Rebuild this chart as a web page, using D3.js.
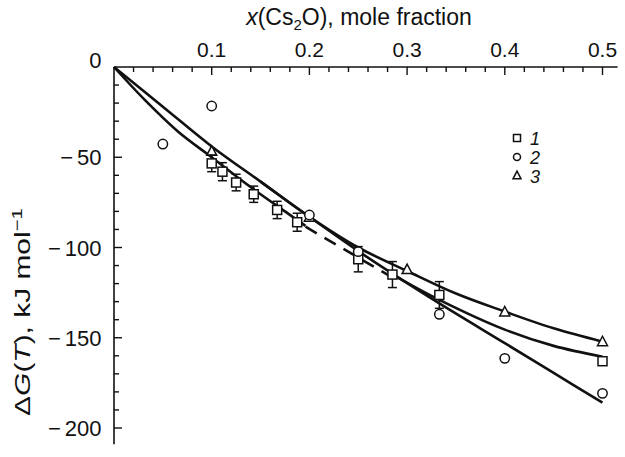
<!DOCTYPE html>
<html><head><meta charset="utf-8">
<script src="https://cdn.jsdelivr.net/npm/d3@7"></script>
<style>
html,body{margin:0;padding:0;background:#fff;}
svg text{font-family:"Liberation Sans",Arial,Helvetica,sans-serif;fill:#111;}
</style></head>
<body><svg id="c" width="625" height="457"></svg>
<script>
// ---- data ----
const xTickLabels = [0.1, 0.2, 0.3, 0.4, 0.5];
const yTickLabels = [0, -50, -100, -150, -200];

// set 1 (squares, with error bars)
const set1X   = [0.100, 0.111, 0.125, 0.143, 0.167, 0.1875, 0.250, 0.285, 0.333, 0.500];
const set1Y   = [-53.4, -58.0, -64.0, -70.5, -79.2, -86.0, -106.5, -115.0, -126.3, -163.0];
const set1Err = [4.6, 5.0, 4.6, 4.5, 4.8, 5.0, 7.0, 7.2, 7.4, 0];

// set 2 (circles)
const set2X = [0.050, 0.100, 0.200, 0.250, 0.333, 0.400, 0.500];
const set2Y = [-42.7, -21.6, -82.0, -102.3, -137.0, -161.4, -180.8];

// set 3 (triangles)
const set3X = [0.100, 0.200, 0.300, 0.400, 0.500];
const set3Y = [-47.0, -83.5, -112.5, -136.0, -152.5];

// curve through triangles (upper)
const curveAX = [0, 0.05, 0.10, 0.15, 0.20, 0.25, 0.30, 0.35, 0.40, 0.45, 0.50];
const curveAY = [0, -22, -44, -63.5, -83, -100, -113, -125.5, -135.5, -144.8, -152.2];
// curve through squares, solid part at low x
const curveBX = [0, 0.032, 0.066, 0.10, 0.125, 0.15, 0.175, 0.196];
const curveBY = [0, -18.5, -36, -50, -60.5, -70.5, -80, -88];
// dashed part
const dashX = [0.196, 0.283];
const dashY = [-88.5, -116];
// curve through squares, solid part at high x
const curveSX = [0.285, 0.333, 0.40, 0.45, 0.50];
const curveSY = [-115, -129, -145.5, -154.5, -160.5];
// curve through circles
const curveCX = [0.15, 0.20, 0.25, 0.285, 0.333, 0.40, 0.45, 0.50];
const curveCY = [-63.5, -83, -102, -114.5, -131, -153, -169.5, -186];

// ---- drawing ----
const svg = d3.select("#c");
const x = d3.scaleLinear().domain([0, 0.5]).range([114, 602.5]);
const y = d3.scaleLinear().domain([0, -200]).range([67, 428]);
const xEnd = 0.5155, yEnd = -209;
const FS = 21;

// axes lines
svg.append("line").attr("x1", x(0)).attr("x2", x(xEnd)).attr("y1", y(0)).attr("y2", y(0))
  .attr("stroke", "#111").attr("stroke-width", 1.6);
svg.append("line").attr("x1", x(0)).attr("x2", x(0)).attr("y1", y(0)).attr("y2", y(yEnd))
  .attr("stroke", "#111").attr("stroke-width", 1.6);

// x ticks (minor every 0.02, major every 0.1)
const xMinor = d3.range(1, 26).map(i => +(i * 0.02).toFixed(2));
svg.append("g").selectAll("line").data(xMinor).join("line")
  .attr("x1", d => x(d)).attr("x2", d => x(d))
  .attr("y1", y(0)).attr("y2", d => y(0) + (Math.abs(d * 10 - Math.round(d * 10)) < 1e-6 ? 8 : 5))
  .attr("stroke", "#111").attr("stroke-width", 1.4);
svg.append("g").selectAll("text").data(xTickLabels).join("text")
  .attr("x", d => x(d)).attr("y", 56.5).attr("text-anchor", "middle")
  .attr("font-size", FS).text(d => d3.format(".1f")(d));

// y ticks (minor every 10, major every 50)
const yMinor = d3.range(1, 21).map(i => -i * 10);
svg.append("g").selectAll("line").data(yMinor).join("line")
  .attr("x1", x(0)).attr("x2", d => x(0) + (d % 50 === 0 ? 8 : 5))
  .attr("y1", d => y(d)).attr("y2", d => y(d))
  .attr("stroke", "#111").attr("stroke-width", 1.4);
const yl = svg.append("g").selectAll("text").data(yTickLabels).join("text")
  .attr("x", 101.5).attr("y", d => d === 0 ? y(d) + 1 : y(d) + 8)
  .attr("text-anchor", "end").attr("font-size", 22);
yl.filter(d => d !== 0).append("tspan").text("\u2212");
yl.append("tspan").attr("dx", d => d === 0 ? 0 : 4).text(d => Math.abs(d));

// axis titles
const xt = svg.append("text").attr("x", 359).attr("y", 25).attr("text-anchor", "middle").attr("font-size", 23);
xt.append("tspan").attr("font-style", "italic").text("x");
xt.append("tspan").text("(Cs");
xt.append("tspan").attr("font-size", 15).attr("dy", 5).text("2");
xt.append("tspan").attr("dy", -5).text("O), mole fraction");

const yt = svg.append("text").attr("transform", "translate(30,312) rotate(-90) scale(1.36,1)")
  .attr("text-anchor", "middle").attr("font-size", 22);
yt.append("tspan").text("\u0394");
yt.append("tspan").attr("font-style", "italic").text("G");
yt.append("tspan").text("(");
yt.append("tspan").attr("font-style", "italic").text("T");
yt.append("tspan").text("), kJ mol");
yt.append("tspan").attr("font-size", 15).attr("dy", -8).text("\u22121");

// curves
const line = d3.line().x(d => x(d[0])).y(d => y(d[1])).curve(d3.curveCatmullRom.alpha(0.5));
const pts = (xs, ys) => xs.map((v, i) => [v, ys[i]]);
const curves = [pts(curveAX, curveAY), pts(curveBX, curveBY), pts(curveSX, curveSY), pts(curveCX, curveCY)];
svg.append("g").selectAll("path").data(curves).join("path")
  .attr("d", line).attr("fill", "none").attr("stroke", "#111").attr("stroke-width", 2.6)
  .attr("stroke-linejoin", "round");
svg.append("path").attr("d", d3.line().x(d => x(d[0])).y(d => y(d[1]))(pts(dashX, dashY)))
  .attr("fill", "none").attr("stroke", "#111").attr("stroke-width", 2.6)
  .attr("stroke-dasharray", "13,9");

const tri = (cx, cy, s) => `M${cx},${cy - s * 0.6}L${cx + s / 2},${cy + s * 0.35}L${cx - s / 2},${cy + s * 0.35}Z`;
// triangles
svg.append("g").selectAll("path").data(pts(set3X, set3Y)).join("path")
  .attr("d", d => tri(x(d[0]), y(d[1]), 10))
  .attr("fill", "#fff").attr("stroke", "#111").attr("stroke-width", 1.5);

// error bars
const s1 = set1X.map((v, i) => ({x: v, y: set1Y[i], e: set1Err[i]}));
const eb = svg.append("g").attr("stroke", "#111").attr("stroke-width", 1.5);
s1.filter(d => d.e > 0).forEach(d => {
  eb.append("line").attr("x1", x(d.x)).attr("x2", x(d.x)).attr("y1", y(d.y + d.e)).attr("y2", y(d.y - d.e));
  eb.append("line").attr("x1", x(d.x) - 4.5).attr("x2", x(d.x) + 4.5).attr("y1", y(d.y + d.e)).attr("y2", y(d.y + d.e));
  eb.append("line").attr("x1", x(d.x) - 4.5).attr("x2", x(d.x) + 4.5).attr("y1", y(d.y - d.e)).attr("y2", y(d.y - d.e));
});

// squares
const sq = 9;
svg.append("g").selectAll("rect").data(s1).join("rect")
  .attr("x", d => x(d.x) - sq / 2).attr("y", d => y(d.y) - sq / 2).attr("width", sq).attr("height", sq)
  .attr("fill", "#fff").attr("stroke", "#111").attr("stroke-width", 1.5);
// circles
svg.append("g").selectAll("circle").data(pts(set2X, set2Y)).join("circle")
  .attr("cx", d => x(d[0])).attr("cy", d => y(d[1])).attr("r", 4.7)
  .attr("fill", "#fff").attr("stroke", "#111").attr("stroke-width", 1.5);

// legend
const lx = 517, ly = [138, 157, 176];
svg.append("rect").attr("x", lx - 3.5).attr("y", ly[0] - 3.5).attr("width", 7).attr("height", 7)
  .attr("fill", "#fff").attr("stroke", "#111").attr("stroke-width", 1.5);
svg.append("circle").attr("cx", lx).attr("cy", ly[1]).attr("r", 3.5)
  .attr("fill", "#fff").attr("stroke", "#111").attr("stroke-width", 1.5);
svg.append("path").attr("d", tri(lx, ly[2], 8))
  .attr("fill", "#fff").attr("stroke", "#111").attr("stroke-width", 1.5);
["1", "2", "3"].forEach((t, i) => {
  svg.append("text").attr("x", lx + 13).attr("y", ly[i] + 6.5).attr("font-size", 18)
    .attr("font-style", "italic").text(t);
});
</script></body></html>
